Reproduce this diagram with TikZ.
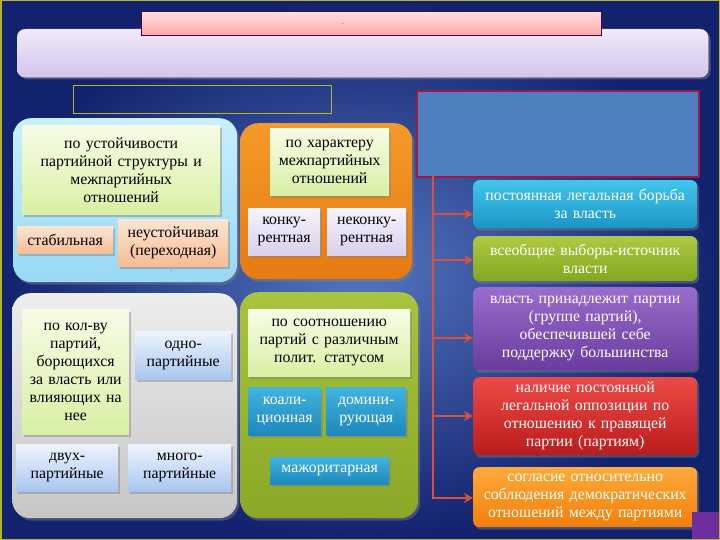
\documentclass[tikz,border=0pt]{standalone}
\usepackage{fontspec}
\setmainfont{Liberation Serif}
\usetikzlibrary{shadows,arrows.meta}
\definecolor{bgin}{HTML}{5476BF}
\definecolor{bgout}{HTML}{13226F}
\definecolor{bordery}{HTML}{B4B428}
\definecolor{arrred}{HTML}{D8503E}
\definecolor{bluerect}{HTML}{4F7FBE}
\definecolor{bluerectb}{HTML}{9A1A44}
\definecolor{bantop}{HTML}{F0EAFA}
\definecolor{banbot}{HTML}{D3C5EA}
\definecolor{pinktop}{HTML}{FFE0DE}
\definecolor{pinkbot}{HTML}{FFA6A6}
\definecolor{cyantop}{HTML}{C8F0FC}
\definecolor{cyanbot}{HTML}{98D9F3}
\definecolor{ortop}{HTML}{F49A2A}
\definecolor{orbot}{HTML}{E67A12}
\definecolor{greytop}{HTML}{EDEDED}
\definecolor{greybot}{HTML}{C6C6C6}
\definecolor{olivetop}{HTML}{A8C43E}
\definecolor{olivebot}{HTML}{8AA826}
\definecolor{pgtop}{HTML}{F7FCE6}
\definecolor{pgbot}{HTML}{D8F0A4}
\definecolor{petop}{HTML}{FCE6D4}
\definecolor{pebot}{HTML}{F7BC94}
\definecolor{lvtop}{HTML}{F6F3FC}
\definecolor{lvbot}{HTML}{D8D0EE}
\definecolor{lbtop}{HTML}{EEF4FF}
\definecolor{lbbot}{HTML}{A9C6F0}
\definecolor{tltop}{HTML}{40B4E0}
\definecolor{tlbot}{HTML}{1E88BC}
\definecolor{r1top}{HTML}{44C6EA}
\definecolor{r1bot}{HTML}{1A96C6}
\definecolor{r2top}{HTML}{ACCA42}
\definecolor{r2bot}{HTML}{84A620}
\definecolor{r3top}{HTML}{9A6CCE}
\definecolor{r3bot}{HTML}{6A3C9E}
\definecolor{r4top}{HTML}{EC4A46}
\definecolor{r4bot}{HTML}{BA1C1C}
\definecolor{r5top}{HTML}{FFAA3A}
\definecolor{r5bot}{HTML}{F27E0A}
\definecolor{sq}{HTML}{6E2EA0}
\newcommand\BX[7]{%
  \pgfmathsetmacro\bxw{#5-#3}\pgfmathsetmacro\bxh{#6-#4}\pgfmathsetmacro\bxt{#5-#3-2}%
  \node[#2, anchor=north west, minimum width=\bxw pt, minimum height=\bxh pt, text width=\bxt pt] (#1) at (#3,#4) {#7};}
\newcommand\fs{\fontsize{15.8}{18}\selectfont}
\tikzset{
  shad/.style={drop shadow={opacity=0.45, shadow xshift=2pt, shadow yshift=-2.5pt}},
  bx/.style={inner sep=0pt, align=center, font=\fs, shad},
  panel/.style={inner sep=0pt, rounded corners=18pt, shad},
  cyanpanel/.style={panel, top color=cyantop, bottom color=cyanbot},
  orangepanel/.style={panel, top color=ortop, bottom color=orbot},
  greypanel/.style={panel, top color=greytop, bottom color=greybot},
  olivepanel/.style={panel, top color=olivetop, bottom color=olivebot},
  palegreen/.style={bx, top color=pgtop, bottom color=pgbot},
  peach/.style={bx, top color=petop, bottom color=pebot},
  lav/.style={bx, top color=lvtop, bottom color=lvbot},
  lblue/.style={bx, top color=lbtop, bottom color=lbbot},
  teal/.style={bx, text=white, top color=tltop, bottom color=tlbot},
  rbox/.style={bx, rounded corners=6pt, text=white},
  arr/.style={draw=arrred, line width=2.5pt, -{Stealth[length=9pt,width=10pt]}},
}
\begin{document}
\begin{tikzpicture}[x=1pt,y=-1pt]
\useasboundingbox (0,0) rectangle (720,540);
% background
\shade[inner color=bgin, outer color=bgout] (0,0) rectangle (720,540);
\draw[bordery, line width=1.5pt] (0.75,0.75) rectangle (719.25,539.25);
% title area
\node[anchor=north west, inner sep=0pt, minimum width=691pt, minimum height=48pt, rounded corners=8pt,
  top color=bantop, bottom color=banbot, draw=white!85!violet, drop shadow={opacity=0.5}] (banner) at (17,29) {};
\node[anchor=north west, inner sep=0pt, minimum width=460pt, minimum height=24pt,
  top color=pinktop, bottom color=pinkbot, draw=violet!60!black, line width=0.8pt] (title) at (141,11) {};
\node[inner sep=0pt, font=\fontsize{6}{6}\selectfont] (dot1) at (343,24) {.};
\node[anchor=north west, inner sep=0pt, minimum width=258pt, minimum height=28pt, draw=bordery, line width=1pt] (ybox) at (73,85) {};
\node[anchor=north west, inner sep=0pt, minimum width=282pt, minimum height=86pt, fill=bluerect, draw=bluerectb, line width=2pt] (brect) at (416,90) {};
% top-left panel
\BX{p1}{cyanpanel}{13}{118}{237}{282}{}
\BX{a1}{palegreen}{22}{125}{220}{214}{по устойчивости\\партийной структуры и\\межпартийных\\отношений}
\BX{a2}{peach}{17}{226}{113}{253}{стабильная}
\BX{a3}{peach}{118}{219}{228}{266}{неустойчивая\\(переходная)}
\node[inner sep=0pt, font=\fontsize{6}{6}\selectfont] (dot2) at (171,271) {.};
% orange panel
\BX{p2}{orangepanel}{240}{123}{412}{279}{}
\BX{b1}{palegreen}{270}{128}{389}{195}{по характеру\\межпартийных\\отношений}
\BX{b2}{lav}{248}{208}{320}{255}{конку-\\рентная}
\BX{b3}{lav}{327}{208}{406}{255}{неконку-\\рентная}
% grey panel
\BX{p3}{greypanel}{12}{293}{237}{518}{}
\BX{c1}{palegreen}{22}{309}{129}{434}{по кол-ву\\партий,\\борющихся\\за власть или\\влияющих на\\нее}
\BX{c2}{lblue}{135}{331}{231}{379}{одно-\\партийные}
\BX{c3}{lblue}{16}{444}{118}{491}{двух-\\партийные}
\BX{c4}{lblue}{128}{444}{231}{491}{много-\\партийные}
% olive panel
\BX{p4}{olivepanel}{240}{292}{418}{518}{}
\BX{d1}{palegreen}{248}{309}{410}{376}{по соотношению\\партий с различным\\полит. статусом}
\BX{d2}{teal}{248}{387}{321}{435}{коали-\\ционная}
\BX{d3}{teal}{326}{387}{406}{435}{домини-\\рующая}
\BX{d4}{teal}{270}{457}{389}{484}{мажоритарная}
% right column
\BX{r1}{rbox, top color=r1top, bottom color=r1bot}{473}{180}{697}{228}{постоянная легальная борьба\\за власть}
\BX{r2}{rbox, top color=r2top, bottom color=r2bot}{473}{236}{697}{281}{всеобщие выборы-источник\\власти}
\BX{r3}{rbox, top color=r3top, bottom color=r3bot}{473}{287}{697}{370}{власть принадлежит партии\\(группе партий),\\обеспечившей себе\\поддержку большинства}
\BX{r4}{rbox, top color=r4top, bottom color=r4bot}{473}{377}{697}{455}{наличие постоянной\\легальной оппозиции по\\отношению к правящей\\партии (партиям)}
\BX{r5}{rbox, top color=r5top, bottom color=r5bot}{473}{467}{697}{527}{согласие относительно\\соблюдения демократических\\отношений между партиями}
% connectors
\coordinate (vt) at (433,176);
\coordinate (vb) at (433,498);
\coordinate (k1) at (433,214);
\coordinate (k2) at (433,260);
\coordinate (k3) at (433,338);
\coordinate (k4) at (433,416);
\draw[draw=arrred, line width=2.5pt] (vt) -- (vb);
\draw[arr] (k1) -- (k1 -| r1.west);
\draw[arr] (k2) -- (k2 -| r2.west);
\draw[arr] (k3) -- (k3 -| r3.west);
\draw[arr] (k4) -- (k4 -| r4.west);
\draw[arr] ([xshift=-1.25pt]vb) -- (vb -| r5.west);
% corner square
\fill[sq] (692,512) rectangle (718.5,538.5);
\end{tikzpicture}
\end{document}
